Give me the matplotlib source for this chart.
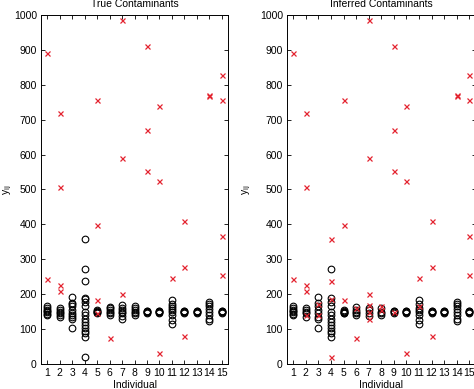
import matplotlib
matplotlib.use("Agg")
import matplotlib.pyplot as plt

plt.rcParams['font.family'] = ['Liberation Sans', 'DejaVu Sans']

individuals = list(range(1, 16))

# clean observations (black circles in the "True" panel)
clean = [
    [140, 144, 148, 152, 156, 160, 165],
    [135, 140, 145, 150, 155, 160],
    [102, 128, 135, 140, 145, 155, 165, 172, 175, 192],
    [20, 78, 88, 95, 102, 112, 120, 128, 140, 148, 165, 178, 185, 188, 237, 273, 358],
    [145, 148, 150, 152, 155],
    [140, 145, 150, 155, 160, 163],
    [130, 138, 145, 150, 155, 160, 170],
    [140, 145, 150, 155, 160, 166],
    [147, 149, 150, 151, 153],
    [147, 149, 150, 151, 153],
    [115, 125, 140, 150, 155, 160, 165, 172, 182],
    [147, 149, 150, 151, 153],
    [147, 149, 150, 151, 153],
    [122, 130, 140, 150, 158, 165, 172, 178],
    [147, 149, 150, 151, 153],
]

# true contaminants (red crosses in the "True" panel)
true_contam = [
    [890, 243],
    [718, 508, 226, 208],
    [],
    [],
    [757, 398, 183, 145],
    [74],
    [987, 589, 200],
    [],
    [912, 670, 552],
    [738, 524, 32],
    [245],
    [410, 278, 80],
    [],
    [770, 768],
    [828, 756, 367, 255],
]

# clean observations that were inferred as contaminants
inferred_extra = [
    [], [140], [172, 140], [358, 237, 185, 20], [], [160], [170, 130, 150],
    [166, 155], [150], [], [165], [], [], [], [],
]

# true contaminants that were not inferred
missed = [
    [], [], [], [], [145], [], [], [], [], [], [], [], [], [], [],
]

titles = ["True Contaminants", "Inferred Contaminants"]
xtick_labels = [str(i) for i in individuals]
yticks = list(range(0, 1001, 100))

RED = '#e3232f'


def remove_vals(src, rem):
    out = list(src)
    for v in rem:
        if v in out:
            out.remove(v)
    return out


def panel_data(kind):
    cx, cy, rx, ry = [], [], [], []
    for i, ind in enumerate(individuals):
        if kind == 0:
            circ = clean[i]
            crs = true_contam[i]
        else:
            circ = remove_vals(clean[i], inferred_extra[i]) + missed[i]
            crs = remove_vals(true_contam[i], missed[i]) + inferred_extra[i]
        cx += [ind] * len(circ)
        cy += circ
        rx += [ind] * len(crs)
        ry += crs
    return cx, cy, rx, ry


fig = plt.figure(figsize=(4.74, 3.89), dpi=100)
positions = [
    [41 / 474, 25 / 389, 187 / 474, 349 / 389],
    [287 / 474, 25 / 389, 188.5 / 474, 349 / 389],
]
label_x = [-27 / 187, -34 / 188.5]

for k in range(2):
    ax = fig.add_axes(positions[k])
    cx, cy, rx, ry = panel_data(k)
    ax.plot(cx, cy, linestyle='none', marker='o', markersize=4.8,
            markerfacecolor='none', markeredgecolor='black', markeredgewidth=0.8)
    ax.plot(rx, ry, linestyle='none', marker='x', markersize=3.6,
            color=RED, markeredgewidth=0.9)
    ax.set_xlim(0.5, 15.5)
    ax.set_ylim(0, 1000)
    ax.set_xticks(individuals)
    ax.set_xticklabels(xtick_labels)
    ax.set_yticks(yticks)
    ax.tick_params(direction='in', top=True, right=True, length=3, width=0.6,
                   labelsize=7.5, pad=3)
    for s in ax.spines.values():
        s.set_linewidth(0.7)
    ax.set_title(titles[k], fontsize=7.5, pad=6)
    ax.set_xlabel('Individual', fontsize=7.5, labelpad=1)
    ax.set_ylabel(r'y$_{\mathrm{ij}}$', fontsize=7.5)
    ax.yaxis.set_label_coords(label_x[k], 0.5)

fig.savefig('out.png', dpi=100)
